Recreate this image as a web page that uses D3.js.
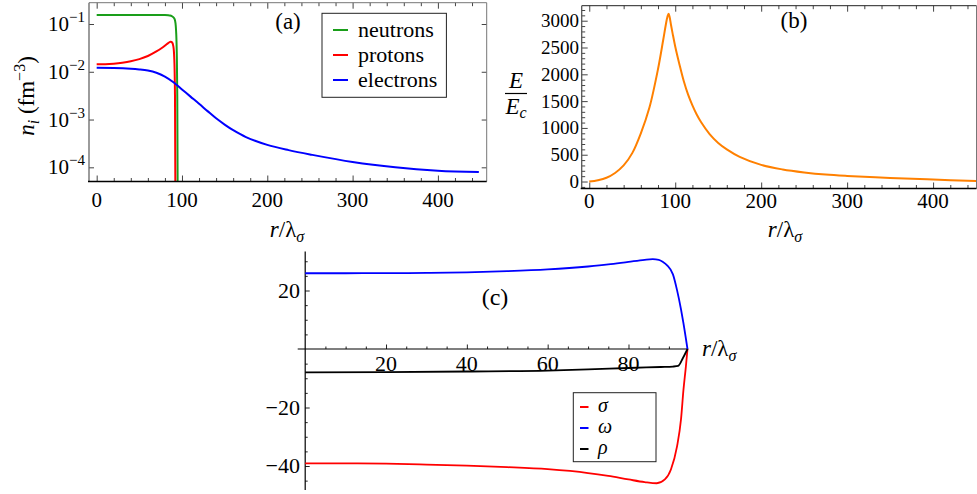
<!DOCTYPE html>
<html><head><meta charset="utf-8">
<script src="https://cdn.jsdelivr.net/npm/d3@7"></script>
<style>
body{margin:0;background:#fff}
svg{display:block}
svg text{fill:#000}
</style>
</head><body>
<svg id="chart" width="977" height="494"></svg>
<script>
// ---------- Panel (a) data: densities n_i (fm^-3) vs r/lambda_sigma ----------
const neutronR = [0, 20, 40, 60, 80, 84, 86, 88, 90, 91.5, 92.5, 93.3, 94, 94.5, 95, 95.5];
const neutronN = [0.155, 0.155, 0.155, 0.155, 0.154, 0.152, 0.150, 0.146, 0.138, 0.125, 0.10, 0.06, 0.02, 0.003, 1e-5, 1e-8];
const protonR = [0, 10, 20, 30, 40, 50, 60, 70, 78, 83, 86.5, 88.5, 90, 91, 91.8, 92.3, 92.8];
const protonN = [0.0143, 0.0144, 0.0148, 0.0155, 0.0166, 0.0184, 0.0214, 0.0266, 0.0331, 0.0389, 0.0425, 0.041, 0.033, 0.018, 0.003, 1e-5, 1e-8];
const electronR = [0, 20, 40, 50, 60, 70, 80, 90, 100, 110, 120, 130, 140, 150, 160, 175, 200, 225, 250, 300, 350, 400, 448];
const electronN = [0.0121, 0.0120, 0.0116, 0.0112, 0.0106, 0.00955, 0.00794, 0.00603, 0.00427, 0.00302, 0.00214, 0.00150, 0.00106, 0.000785, 0.000600, 0.000430, 0.000295, 0.000229, 0.000186, 0.000129, 0.000100, 0.0000851, 0.0000794];
const aXTicks = [0, 100, 200, 300, 400];
const aYTicks = [1e-1, 1e-2, 1e-3, 1e-4];
const aYTickExp = ["\u22121", "\u22122", "\u22123", "\u22124"];
const aLegend = ["neutrons", "protons", "electrons"];

// ---------- Panel (b) data: E/E_c vs r/lambda_sigma ----------
const energyR = [0, 10, 20, 30, 40, 50, 60, 70, 80, 86, 89, 91, 92.3, 93.5, 95, 97, 100, 105, 110, 115, 120, 125, 130, 140, 150, 160, 175, 200, 225, 250, 275, 300, 350, 400, 450];
const energyE = [0, 25, 70, 160, 300, 530, 900, 1380, 2100, 2640, 2920, 3080, 3130, 3070, 2930, 2760, 2520, 2180, 1870, 1620, 1420, 1250, 1110, 885, 720, 600, 460, 310, 225, 170, 130, 105, 68, 38, 8];
const bXTicks = [0, 100, 200, 300, 400];
const bYTicks = [0, 500, 1000, 1500, 2000, 2500, 3000];

// ---------- Panel (c) data: meson fields vs r/lambda_sigma ----------
const omegaR = [0, 10, 20, 30, 40, 50, 60, 70, 75, 80, 84, 86, 87.5, 88.5, 89.5, 91, 92, 93, 93.6, 94.6];
const omegaV = [25.9, 25.9, 25.95, 26.0, 26.2, 26.6, 27.2, 28.2, 28.9, 29.8, 30.5, 30.7, 30.5, 29.8, 28.7, 25.5, 20.2, 13.5, 8.8, 0];
const sigmaR = [0, 10, 20, 30, 40, 50, 60, 70, 75, 80, 84, 87, 89, 90.5, 92, 93, 93.6, 94.2, 94.6];
const sigmaV = [-39.1, -39.1, -39.2, -39.5, -39.9, -40.4, -41.1, -42.4, -43.4, -44.6, -45.5, -45.9, -44.6, -41.2, -33.4, -24, -14, -6, 0];
const rhoR = [0, 20, 40, 60, 70, 80, 88, 91, 92.3, 93.5, 94.6];
const rhoV = [-8.0, -7.9, -7.7, -7.4, -7.0, -6.5, -6.15, -6.0, -5.8, -3.0, 0];
const cXTicks = [20, 40, 60, 80];
const cYTicks = [20, -20, -40];
const cLegend = ["\u03C3", "\u03C9", "\u03C1"];

const FONT = "'Liberation Serif', Tinos, Times, 'Times New Roman', 'Nimbus Roman', 'Nimbus Roman No9 L', FreeSerif, 'DejaVu Serif', 'Noto Serif', serif";
const svg = d3.select("#chart");
const GREEN = "#1a9e1a", RED = "#ff0000", BLUE = "#0000ff", ORANGE = "#ff8000";

function txt(parent, x, y, size, anchor) {
  return parent.append("text").attr("x", x).attr("y", y).style("font-family", FONT)
    .attr("font-size", size).attr("text-anchor", anchor || "start");
}
function tickGroup(parent, axisFn, scale, values, size, tr, color) {
  const g = parent.append("g").attr("transform", tr)
    .call(axisFn(scale).tickValues(values).tickSize(size).tickFormat(""));
  g.select(".domain").remove();
  g.selectAll("line").attr("stroke", color || "#444").attr("stroke-width", 1);
  return g;
}
function rLabel(parent, x, y, anchor) {
  const t = txt(parent, x, y, 23, anchor);
  t.append("tspan").attr("font-style", "italic").text("r");
  t.append("tspan").text("/\u03BB");
  t.append("tspan").attr("font-style", "italic").attr("font-size", 16).attr("dy", 5).text("\u03C3");
}
const smooth = d3.curveCatmullRom.alpha(0.5);

// ================= Panel (a) =================
{
  const L = 89, R = 486.7, T = 2.7, B = 181.5;
  const x = d3.scaleLinear().domain([-9, 457.2]).range([L, R]);
  const y = d3.scaleLog().domain([Math.pow(10, -4.297), Math.pow(10, -0.554)]).range([B, T]);
  const g = svg.append("g");
  g.append("clipPath").attr("id", "clipA").append("rect").attr("x", L).attr("y", T).attr("width", R - L).attr("height", B - T);

  const minors = d3.range(0, 460, 20).filter(v => v % 100 !== 0);
  tickGroup(g, d3.axisBottom, x, aXTicks, -6, `translate(0,${B})`);
  tickGroup(g, d3.axisBottom, x, minors, -3.5, `translate(0,${B})`);
  tickGroup(g, d3.axisTop, x, aXTicks, -6, `translate(0,${T})`);
  tickGroup(g, d3.axisTop, x, minors, -3.5, `translate(0,${T})`);
  tickGroup(g, d3.axisLeft, y, aYTicks, -5, `translate(${L},0)`);
  tickGroup(g, d3.axisRight, y, aYTicks, -5, `translate(${R},0)`);

  const series = [[neutronR, neutronN, GREEN], [protonR, protonN, RED], [electronR, electronN, BLUE]];
  const line = d3.line().x(d => x(d[0])).y(d => y(d[1])).curve(smooth);
  series.forEach(([rs, vs, c]) => {
    g.append("path").attr("clip-path", "url(#clipA)").attr("d", line(rs.map((r, i) => [r, vs[i]])))
      .attr("fill", "none").attr("stroke", c).attr("stroke-width", 2);
  });

  g.append("line").attr("x1", L).attr("x2", R).attr("y1", T).attr("y2", T).attr("stroke", "#777");
  g.append("line").attr("x1", R).attr("x2", R).attr("y1", T).attr("y2", B).attr("stroke", "#777");
  g.append("line").attr("x1", L).attr("x2", L).attr("y1", T).attr("y2", B).attr("stroke", "#666").attr("stroke-width", 1.3);
  g.append("line").attr("x1", L - 1).attr("x2", R).attr("y1", B).attr("y2", B).attr("stroke", "#000").attr("stroke-width", 1.5);

  aXTicks.forEach(v => txt(g, x(v), 207, 21, "middle").text(v));
  aYTicks.forEach((v, i) => {
    const t = txt(g, 85, y(v) + 7, 21, "end");
    t.append("tspan").text("10");
    t.append("tspan").attr("font-size", 15).attr("dy", -9).text(aYTickExp[i]);
  });

  const yl = g.append("text").attr("transform", "translate(34,96) rotate(-90)").attr("text-anchor", "middle")
    .style("font-family", FONT).attr("font-size", 23);
  yl.append("tspan").attr("font-style", "italic").text("n");
  yl.append("tspan").attr("font-style", "italic").attr("font-size", 16).attr("dy", 5).text("i");
  yl.append("tspan").attr("dy", -5).text(" (fm");
  yl.append("tspan").attr("font-size", 16).attr("dy", -9).text("\u22123");
  yl.append("tspan").attr("dy", 9).text(")");
  rLabel(g, 287, 237, "middle");
  txt(g, 288, 29, 23, "middle").text("(a)");

  g.append("rect").attr("x", 322).attr("y", 13.3).attr("width", 124.4).attr("height", 84).attr("fill", "#fff").attr("stroke", "#222");
  const lc = [GREEN, RED, BLUE];
  aLegend.forEach((s, i) => {
    const yy = 30 + i * 25;
    g.append("line").attr("x1", 333).attr("x2", 348).attr("y1", yy).attr("y2", yy).attr("stroke", lc[i]).attr("stroke-width", 2);
    txt(g, 358, yy + 7, 22).text(s);
  });
}

// ================= Panel (b) =================
{
  const L = 581.7, R = 976.5, T = 5.7, B = 188.5;
  const x = d3.scaleLinear().domain([-8.8, 450.5]).range([L, R]);
  const y = d3.scaleLinear().domain([-130, 3280]).range([B, T]);
  const g = svg.append("g");
  g.append("clipPath").attr("id", "clipB").append("rect").attr("x", L).attr("y", T).attr("width", R - L).attr("height", B - T);

  const xmin = d3.range(0, 451, 20).filter(v => v % 100 !== 0);
  const ymin = d3.range(-100, 3260, 100).filter(v => v % 500 !== 0);
  tickGroup(g, d3.axisBottom, x, bXTicks, -6, `translate(0,${B})`);
  tickGroup(g, d3.axisBottom, x, xmin, -3.5, `translate(0,${B})`);
  tickGroup(g, d3.axisTop, x, bXTicks, -6, `translate(0,${T})`);
  tickGroup(g, d3.axisTop, x, xmin, -3.5, `translate(0,${T})`);
  tickGroup(g, d3.axisLeft, y, bYTicks, -6, `translate(${L},0)`);
  tickGroup(g, d3.axisLeft, y, ymin, -3.5, `translate(${L},0)`);

  const line = d3.line().x(d => x(d[0])).y(d => y(d[1])).curve(smooth);
  g.append("path").attr("clip-path", "url(#clipB)").attr("d", line(energyR.map((r, i) => [r, energyE[i]])))
    .attr("fill", "none").attr("stroke", ORANGE).attr("stroke-width", 2);

  g.append("line").attr("x1", L).attr("x2", R).attr("y1", T).attr("y2", T).attr("stroke", "#222");
  g.append("line").attr("x1", R).attr("x2", R).attr("y1", T).attr("y2", B).attr("stroke", "#777");
  g.append("line").attr("x1", L).attr("x2", L).attr("y1", T).attr("y2", B).attr("stroke", "#555").attr("stroke-width", 1.3);
  g.append("line").attr("x1", L - 1).attr("x2", R).attr("y1", B).attr("y2", B).attr("stroke", "#000").attr("stroke-width", 1.5);

  bXTicks.forEach(v => txt(g, x(v), 208, 21, "middle").text(v));
  bYTicks.forEach(v => txt(g, 579, y(v) + 6.5, 19, "end").text(v));

  txt(g, 516, 88, 23, "middle").attr("font-style", "italic").text("E");
  g.append("line").attr("x1", 505).attr("x2", 527).attr("y1", 93.5).attr("y2", 93.5).attr("stroke", "#000").attr("stroke-width", 1.2);
  const den = txt(g, 516, 114, 23, "middle").attr("font-style", "italic");
  den.append("tspan").text("E");
  den.append("tspan").attr("font-size", 16).attr("dy", 4).text("c");
  rLabel(g, 785, 237, "middle");
  txt(g, 794, 28, 23, "middle").text("(b)");
}

// ================= Panel (c) =================
{
  const x = d3.scaleLinear().domain([0, 94.8]).range([305.2, 688.3]);
  const y = d3.scaleLinear().domain([0, 20]).range([349, 290.5]);
  const g = svg.append("g");

  const xmin = d3.range(5, 94, 5).filter(v => v % 20 !== 0);
  const ymin = d3.range(-45, 33, 5).filter(v => v % 20 !== 0);
  tickGroup(g, d3.axisBottom, x, cXTicks, -4.5, `translate(0,${y(0)})`, "#222");
  tickGroup(g, d3.axisBottom, x, xmin, -2.5, `translate(0,${y(0)})`, "#222");
  tickGroup(g, d3.axisLeft, y, cYTicks, -4.5, `translate(${x(0)},0)`, "#222");
  tickGroup(g, d3.axisLeft, y, ymin, -2.5, `translate(${x(0)},0)`, "#222");

  g.append("line").attr("x1", 297.7).attr("x2", 688.3).attr("y1", y(0)).attr("y2", y(0)).attr("stroke", "#000").attr("stroke-width", 1.2);
  g.append("line").attr("x1", x(0)).attr("x2", x(0)).attr("y1", y(33.3)).attr("y2", y(-48.2)).attr("stroke", "#000").attr("stroke-width", 1.2);

  const line = d3.line().x(d => x(d[0])).y(d => y(d[1])).curve(d3.curveMonotoneX);
  [[omegaR, omegaV, BLUE], [sigmaR, sigmaV, RED], [rhoR, rhoV, "#000"]].forEach(([rs, vs, c]) => {
    g.append("path").attr("d", line(rs.map((r, i) => [r, vs[i]]))).attr("fill", "none").attr("stroke", c).attr("stroke-width", 1.8);
  });

  cXTicks.forEach(v => txt(g, x(v), 371, 22, "middle").text(v));
  cYTicks.forEach(v => txt(g, 300, y(v) + 7, 22, "end").text(v < 0 ? "\u2212" + Math.abs(v) : v));

  rLabel(g, 702, 356, "start");
  txt(g, 495, 305, 24, "middle").text("(c)");

  g.append("rect").attr("x", 573.3).attr("y", 392.7).attr("width", 82.7).attr("height", 69).attr("fill", "#fff").attr("stroke", "#222");
  const lc = [RED, BLUE, "#000"];
  cLegend.forEach((s, i) => {
    const yy = 407 + i * 21;
    g.append("line").attr("x1", 580).attr("x2", 588.5).attr("y1", yy).attr("y2", yy).attr("stroke", lc[i]).attr("stroke-width", 2);
    txt(g, 598, yy + 5, 20).attr("font-style", "italic").text(s);
  });
}
</script>
</body></html>
